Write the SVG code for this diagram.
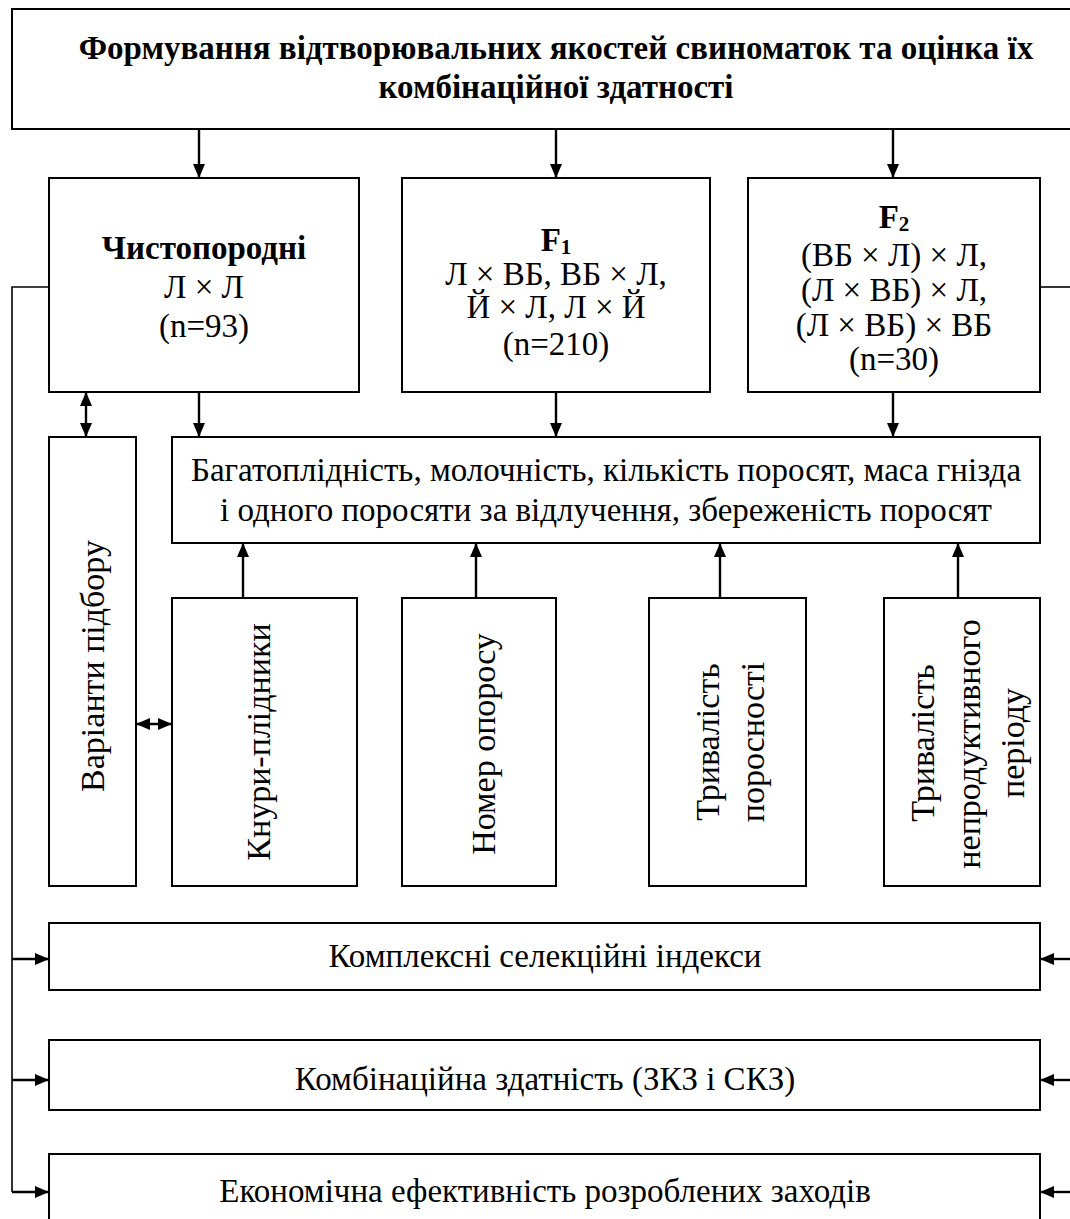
<svg xmlns="http://www.w3.org/2000/svg" width="1070" height="1219" viewBox="0 0 1070 1219">
<style>
.box{fill:#fff;stroke:#000;stroke-width:2}
.t{font-family:'Liberation Serif','Times New Roman',Tinos,'DejaVu Serif',serif;font-size:33px;fill:#000;text-anchor:middle}
.b{font-weight:bold}
.v{dominant-baseline:central;font-size:34px}
.ln{fill:none;stroke:#000;stroke-width:1.6}
.ar{fill:none;stroke:#000;stroke-width:2.4}
</style>
<defs>
<marker id="ah" viewBox="0 0 14 12" refX="14" refY="6" markerWidth="14" markerHeight="12" markerUnits="userSpaceOnUse" orient="auto-start-reverse">
<path d="M0,0 L14,6 L0,12 Z" fill="#000"/>
</marker>
</defs>
<rect width="1070" height="1219" fill="#fff"/>

<g id="title">
<rect class="box" x="12" y="9" width="1090" height="120"/>
<text class="t b" x="556" y="59" font-size="33.5">Формування відтворювальних якостей свиноматок та оцінка їх</text>
<text class="t b" x="556" y="98" font-size="33.5">комбінаційної здатності</text>
</g>

<g id="purebred">
<rect class="box" x="49" y="178" width="310" height="214"/>
<text class="t b" x="204" y="259">Чистопородні</text>
<text class="t" x="204" y="298">Л × Л</text>
<text class="t" x="204" y="337">(n=93)</text>
</g>

<g id="f1">
<rect class="box" x="402" y="178" width="308" height="214"/>
<text class="t b" x="556" y="251">F<tspan font-size="21" dy="3">1</tspan></text>
<text class="t" x="556" y="285">Л × ВБ, ВБ × Л,</text>
<text class="t" x="556" y="318">Й × Л, Л × Й</text>
<text class="t" x="556" y="355">(n=210)</text>
</g>

<g id="f2">
<rect class="box" x="748" y="178" width="292" height="214"/>
<text class="t b" x="894" y="228">F<tspan font-size="21" dy="3">2</tspan></text>
<text class="t" x="894" y="266">(ВБ × Л) × Л,</text>
<text class="t" x="894" y="301">(Л × ВБ) × Л,</text>
<text class="t" x="894" y="336">(Л × ВБ) × ВБ</text>
<text class="t" x="894" y="370">(n=30)</text>
</g>

<g id="traits">
<rect class="box" x="172" y="437" width="868" height="106"/>
<text class="t" x="606" y="481" font-size="34">Багатоплідність, молочність, кількість поросят, маса гнізда</text>
<text class="t" x="606" y="521" font-size="34">і одного поросяти за відлучення, збереженість поросят</text>
</g>

<g id="selection">
<rect class="box" x="49" y="437" width="87" height="449"/>
<text class="t v" transform="translate(92,666) rotate(-90)">Варіанти підбору</text>
</g>

<g id="boars">
<rect class="box" x="172" y="598" width="185" height="288"/>
<text class="t v" transform="translate(258,742) rotate(-90)">Кнури-плідники</text>
</g>

<g id="parity">
<rect class="box" x="402" y="598" width="154" height="288"/>
<text class="t v" transform="translate(483,744) rotate(-90)">Номер опоросу</text>
</g>

<g id="gestation">
<rect class="box" x="649" y="598" width="157" height="288"/>
<text class="t v" transform="translate(707,742) rotate(-90)">Тривалість</text>
<text class="t v" transform="translate(752,742) rotate(-90)">поросності</text>
</g>

<g id="nonproductive">
<rect class="box" x="884" y="598" width="156" height="288"/>
<text class="t v" transform="translate(922,743) rotate(-90)">Тривалість</text>
<text class="t v" transform="translate(968,744) rotate(-90)">непродуктивного</text>
<text class="t v" transform="translate(1012,743) rotate(-90)">періоду</text>
</g>

<g id="indices">
<rect class="box" x="49" y="923" width="991" height="67"/>
<text class="t" x="545" y="967">Комплексні селекційні індекси</text>
</g>

<g id="combining">
<rect class="box" x="49" y="1040" width="991" height="70"/>
<text class="t" x="545" y="1090">Комбінаційна здатність (ЗКЗ і СКЗ)</text>
</g>

<g id="economic">
<rect class="box" x="49" y="1154" width="991" height="80"/>
<text class="t" x="545" y="1202">Економічна ефективність розроблених заходів</text>
</g>

<g id="connectors">
<line class="ar" x1="199" y1="129" x2="199" y2="178" marker-end="url(#ah)"/>
<line class="ar" x1="556" y1="129" x2="556" y2="178" marker-end="url(#ah)"/>
<line class="ar" x1="893" y1="129" x2="893" y2="178" marker-end="url(#ah)"/>
<line class="ar" x1="199" y1="392" x2="199" y2="437" marker-end="url(#ah)"/>
<line class="ar" x1="556" y1="392" x2="556" y2="437" marker-end="url(#ah)"/>
<line class="ar" x1="893" y1="392" x2="893" y2="437" marker-end="url(#ah)"/>
<line class="ar" x1="86" y1="392" x2="86" y2="437" marker-start="url(#ah)" marker-end="url(#ah)"/>
<line class="ar" x1="136" y1="724" x2="172" y2="724" marker-start="url(#ah)" marker-end="url(#ah)"/>
<line class="ar" x1="243" y1="598" x2="243" y2="543" marker-end="url(#ah)"/>
<line class="ar" x1="476" y1="598" x2="476" y2="543" marker-end="url(#ah)"/>
<line class="ar" x1="720" y1="598" x2="720" y2="543" marker-end="url(#ah)"/>
<line class="ar" x1="958" y1="598" x2="958" y2="543" marker-end="url(#ah)"/>
<polyline class="ln" points="49,287 12,287 12,1192"/>
<line class="ln" x1="1040" y1="287" x2="1070" y2="287"/>
<line class="ar" x1="12" y1="959" x2="49" y2="959" marker-end="url(#ah)"/>
<line class="ar" x1="12" y1="1080" x2="49" y2="1080" marker-end="url(#ah)"/>
<line class="ar" x1="12" y1="1192" x2="49" y2="1192" marker-end="url(#ah)"/>
<line class="ar" x1="1070" y1="959" x2="1040" y2="959" marker-end="url(#ah)"/>
<line class="ar" x1="1070" y1="1080" x2="1040" y2="1080" marker-end="url(#ah)"/>
<line class="ar" x1="1070" y1="1192" x2="1040" y2="1192" marker-end="url(#ah)"/>
</g>
</svg>
